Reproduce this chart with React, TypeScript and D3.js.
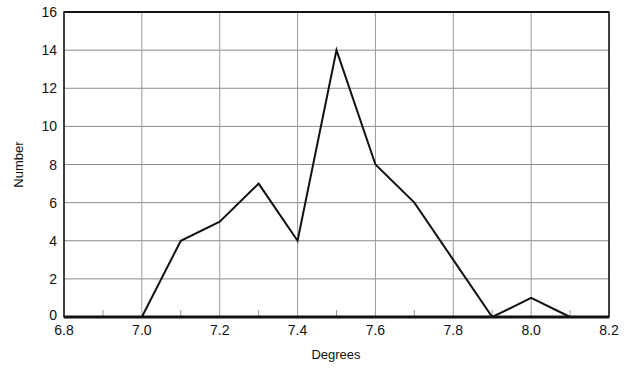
import React from "react";
import * as d3 from "d3";

const degrees = [7.0, 7.1, 7.2, 7.3, 7.4, 7.5, 7.6, 7.7, 7.8, 7.9, 8.0, 8.1];
const counts = [0, 4, 5, 7, 4, 14, 8, 6, 3, 0, 1, 0];
const xTicks = [6.8, 7.0, 7.2, 7.4, 7.6, 7.8, 8.0, 8.2];
const xMinorTicks = [6.9, 7.1, 7.3, 7.5, 7.7, 7.9, 8.1];
const yTicks = [0, 2, 4, 6, 8, 10, 12, 14, 16];

const W = 638;
const H = 374;
const left = 64;
const right = 609;
const top = 12;
const bottom = 317;

export default function App() {
  const x = d3.scaleLinear().domain([6.8, 8.2]).range([left, right]);
  const y = d3.scaleLinear().domain([0, 16]).range([bottom, top]);
  const line = d3
    .line<number>()
    .x((_, i) => x(degrees[i]))
    .y((d) => y(d));
  const font = "'Liberation Sans', Arial, sans-serif";
  return (
    <svg
      width={W}
      height={H}
      style={{ position: "absolute", left: 0, top: 0, background: "#fff" }}
      fontFamily={font}
    >
      <rect x={0} y={0} width={W} height={H} fill="#fff" />
      {yTicks.map((t) => (
        <line key={"gy" + t} x1={left} x2={right} y1={y(t)} y2={y(t)} stroke="#8a8a8a" strokeWidth={1} />
      ))}
      {xTicks.map((t) => (
        <line key={"gx" + t} x1={x(t)} x2={x(t)} y1={top} y2={bottom} stroke="#9a9a9a" strokeWidth={1} />
      ))}
      {xMinorTicks.map((t) => (
        <line key={"mx" + t} x1={x(t)} x2={x(t)} y1={bottom - 7} y2={bottom} stroke="#9a9a9a" strokeWidth={1} />
      ))}
      <rect x={left} y={top} width={right - left} height={bottom - top} fill="none" stroke="#111" strokeWidth={1.5} />
      <line x1={left} x2={right} y1={top} y2={top} stroke="#111" strokeWidth={2} />
      <line x1={left} x2={right} y1={bottom} y2={bottom} stroke="#111" strokeWidth={3} />
      <path d={line(counts) || ""} fill="none" stroke="#111" strokeWidth={2} strokeLinejoin="miter" />
      {yTicks.map((t) => (
        <text key={"ly" + t} x={57} y={y(t) + (t === 0 ? 3 : 5)} textAnchor="end" fontSize={14} fill="#111">
          {t}
        </text>
      ))}
      {xTicks.map((t) => (
        <text key={"lx" + t} x={x(t)} y={335} textAnchor="middle" fontSize={14} fill="#111">
          {t.toFixed(1)}
        </text>
      ))}
      <text x={336} y={359} textAnchor="middle" fontSize={13} fill="#111">
        Degrees
      </text>
      <text
        transform={`translate(23, ${(top + bottom) / 2}) rotate(-90)`}
        textAnchor="middle"
        fontSize={13}
        fill="#111"
      >
        Number
      </text>
    </svg>
  );
}
